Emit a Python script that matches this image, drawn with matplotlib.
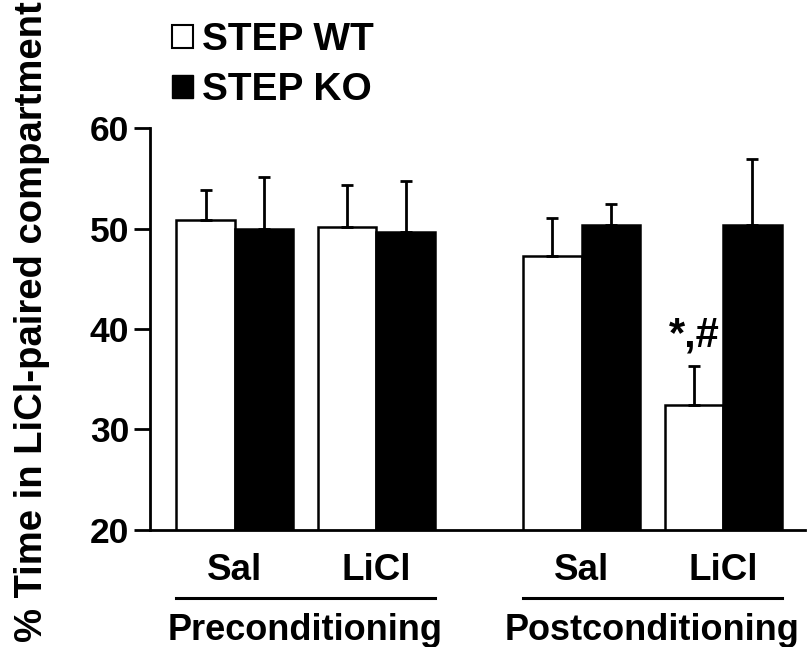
import matplotlib
matplotlib.use("Agg")
import matplotlib.pyplot as plt
import matplotlib.transforms as mtransforms
from matplotlib.patches import Patch
import numpy as np

plt.rcParams["font.family"] = ["Liberation Sans", "DejaVu Sans"]
plt.rcParams["font.weight"] = "bold"

# -----------------------------
# Data
# -----------------------------
phases = ["Preconditioning", "Postconditioning"]
treatments = ["Sal", "LiCl"]
wt_mean = [50.9, 50.2, 47.3, 32.4]
wt_err = [2.9, 4.1, 3.8, 3.9]
ko_mean = [50.0, 49.7, 50.4, 50.4]
ko_err = [5.1, 5.0, 2.1, 6.5]
sig_label = "*,#"
sig_index = 3  # WT LiCl post

# -----------------------------
# Layout
# -----------------------------
group_start = [0.0, 5.95]
pair_offset = [0.0, 2.43]
wt_x = np.array([g + p for g in group_start for p in pair_offset])
ko_x = wt_x + 1.0
pair_centers = (wt_x + ko_x) / 2

fig = plt.figure(figsize=(8.11, 6.47), dpi=100)
ax = fig.add_axes([0.18496, 0.1816, 0.8076, 0.6201])

lw = 1.8
err_kw = dict(elinewidth=2.0, capthick=2.0, capsize=4.5, ecolor="black")

ax.bar(wt_x, wt_mean, width=1.0, color="white", edgecolor="black",
       linewidth=lw, yerr=[np.zeros(4), wt_err], error_kw=err_kw, zorder=2)
ax.bar(ko_x, ko_mean, width=1.0, color="black", edgecolor="black",
       linewidth=lw, yerr=[np.zeros(4), ko_err], error_kw=err_kw, zorder=2)

ax.text(wt_x[sig_index], wt_mean[sig_index] + wt_err[sig_index] + 1.9, sig_label,
        ha="center", va="baseline", fontsize=30, fontweight="bold")

ax.set_ylim(20, 60)
ax.set_xlim(-0.952, 10.28)
ax.set_yticks([20, 30, 40, 50, 60])

for s in ["top", "right"]:
    ax.spines[s].set_visible(False)
for s in ["left", "bottom"]:
    ax.spines[s].set_linewidth(2.0)

ax.tick_params(axis="y", direction="out", length=11.5, width=2.0,
               labelsize=25.5, pad=3.5)
ax.set_xticks(pair_centers)
ax.set_xticklabels(treatments * 2)
ax.tick_params(axis="x", length=0, labelsize=26.5, pad=17)
for lab in ax.get_xticklabels() + ax.get_yticklabels():
    lab.set_fontweight("bold")

# group underlines and labels
trans = mtransforms.blended_transform_factory(ax.transData, ax.transAxes)
for i, name in enumerate(phases):
    left = wt_x[2 * i] - 0.5
    right = ko_x[2 * i + 1] + 0.5
    ax.plot([left, right], [-0.170, -0.170], color="black", lw=2.2,
            transform=trans, clip_on=False)
    ax.text((left + right) / 2, -0.2755, name, transform=trans, ha="center",
            va="baseline", fontsize=26, fontweight="bold")

fig.text(0.039, 0.503, "% Time in LiCl-paired compartment", rotation=90,
         ha="center", va="center", fontsize=27.5, fontweight="bold")

handles = [Patch(facecolor="white", edgecolor="black", linewidth=1.5),
           Patch(facecolor="black", edgecolor="black")]
fig.legend(handles, ["STEP WT", "STEP KO"], loc="upper left",
           bbox_to_anchor=(172 / 811, 0.966), frameon=False, borderpad=0,
           borderaxespad=0, handlelength=0.55, handleheight=0.55,
           handletextpad=0.22, labelspacing=0.36,
           prop={"weight": "bold", "size": 28})

fig.savefig("out.png", dpi=100)
